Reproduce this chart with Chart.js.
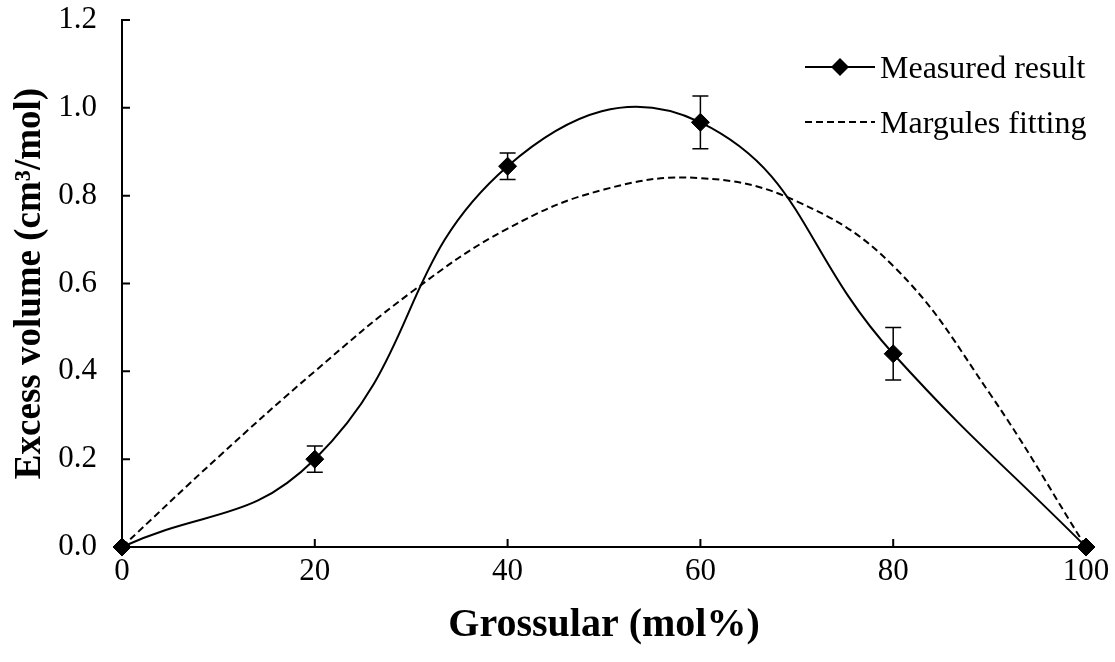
<!DOCTYPE html>
<html>
<head>
<meta charset="utf-8">
<script src="https://cdn.jsdelivr.net/npm/chart.js@4.4.0/dist/chart.umd.min.js"></script>
<style>
  html, body { margin: 0; padding: 0; background: #fff; }
  #wrap { width: 1115px; height: 662px; }
</style>
</head>
<body>
<div id="wrap"><canvas id="volumeChart"></canvas></div>
<script>
// Grossular content (mol%) and excess volume (cm3/mol)
const grossular = [0, 20, 40, 60, 80, 100];
const measured = [0, 0.20, 0.867, 0.967, 0.44, 0];
const measuredErr = [0, 0.03, 0.03, 0.06, 0.06, 0];
const fitX = [0, 10, 20, 30, 40, 50, 60, 70, 80, 90, 100];
const fitY = [0, 0.205, 0.40, 0.58, 0.725, 0.814, 0.84, 0.787, 0.64, 0.35, 0];
const xTicks = [0, 20, 40, 60, 80, 100];
const yTicks = [0, 0.2, 0.4, 0.6, 0.8, 1.0, 1.2];

const serif = "'Liberation Serif', 'Times New Roman', serif";

// vertical error bars with caps on the measured series
const errorBars = {
    id: 'errorBars',
    afterDatasetsDraw(chart) {
        const ctx = chart.ctx;
        const xs = chart.scales.x, ys = chart.scales.y;
        ctx.save();
        ctx.strokeStyle = '#000';
        ctx.lineWidth = 1.5;
        measured.forEach((v, i) => {
            const e = measuredErr[i];
            if (!e) return;
            const x = xs.getPixelForValue(grossular[i]);
            const top = ys.getPixelForValue(v + e);
            const bot = ys.getPixelForValue(v - e);
            ctx.beginPath();
            ctx.moveTo(x, top); ctx.lineTo(x, bot);
            ctx.moveTo(x - 8, top); ctx.lineTo(x + 8, top);
            ctx.moveTo(x - 8, bot); ctx.lineTo(x + 8, bot);
            ctx.stroke();
        });
        ctx.restore();
    }
};

// tick marks pointing into the plot area
const insideTicks = {
    id: 'insideTicks',
    afterDraw(chart) {
        const ctx = chart.ctx;
        const xs = chart.scales.x, ys = chart.scales.y;
        const area = chart.chartArea;
        ctx.save();
        ctx.strokeStyle = '#000';
        ctx.lineWidth = 2;
        ctx.beginPath();
        xTicks.forEach(t => {
            const x = xs.getPixelForValue(t);
            ctx.moveTo(x, area.bottom); ctx.lineTo(x, area.bottom - 8);
        });
        yTicks.forEach(t => {
            const y = ys.getPixelForValue(t);
            ctx.moveTo(area.left, y); ctx.lineTo(area.left + 8, y);
        });
        ctx.stroke();
        ctx.restore();
    }
};

// legend in the upper right corner: line sample, marker, label
const cornerLegend = {
    id: 'cornerLegend',
    afterDraw(chart) {
        const ctx = chart.ctx;
        const rows = [67, 122];
        ctx.save();
        ctx.font = '32px ' + serif;
        ctx.fillStyle = '#000';
        ctx.textBaseline = 'middle';
        chart.data.datasets.forEach((ds, i) => {
            const y = rows[i];
            ctx.strokeStyle = '#000';
            ctx.lineWidth = 2;
            ctx.setLineDash(ds.borderDash || []);
            ctx.beginPath();
            ctx.moveTo(805, y); ctx.lineTo(875, y);
            ctx.stroke();
            ctx.setLineDash([]);
            if (ds.pointRadius) {
                const r = ds.pointRadius;
                ctx.beginPath();
                ctx.moveTo(840, y - r); ctx.lineTo(840 + r, y);
                ctx.lineTo(840, y + r); ctx.lineTo(840 - r, y);
                ctx.closePath();
                ctx.fill();
            }
            ctx.fillText(ds.label, 880, y + 3);
        });
        ctx.restore();
    }
};

new Chart(document.getElementById('volumeChart'), {
    type: 'line',
    data: {
        datasets: [{
            label: 'Measured result',
            data: grossular.map((x, i) => ({ x: x, y: measured[i] })),
            borderColor: '#000',
            backgroundColor: '#000',
            borderWidth: 2,
            tension: 0.45,
            pointStyle: 'rectRot',
            pointRadius: 9,
            pointBorderWidth: 1,
            pointBackgroundColor: '#000',
            pointBorderColor: '#000',
            clip: false
        }, {
            label: 'Margules fitting',
            data: fitX.map((x, i) => ({ x: x, y: fitY[i] })),
            borderColor: '#000',
            borderWidth: 2,
            borderDash: [7, 4],
            tension: 0.4,
            pointRadius: 0,
            clip: false
        }]
    },
    options: {
        responsive: true,
        maintainAspectRatio: false,
        animation: false,
        layout: { autoPadding: false, padding: { top: 20, right: 29, left: 0, bottom: 0 } },
        plugins: {
            legend: { display: false },
            tooltip: { enabled: false }
        },
        scales: {
            x: {
                type: 'linear',
                min: 0,
                max: 100,
                afterFit: s => {
                    s.height = 115;
                    s.paddingLeft = 0;
                    s.paddingRight = 0;
                },
                afterBuildTicks: s => { s.ticks = xTicks.map(v => ({ value: v })); },
                ticks: {
                    color: '#000',
                    font: { family: serif, size: 31 },
                    padding: 6,
                    maxRotation: 0
                },
                grid: { display: true, drawOnChartArea: false, drawTicks: false },
                border: { color: '#000', width: 2 },
                title: {
                    display: true,
                    text: 'Grossular (mol%)',
                    color: '#000',
                    font: { family: serif, size: 40, weight: 'bold' },
                    padding: { bottom: 12 }
                }
            },
            y: {
                min: 0,
                max: 1.2,
                afterFit: s => {
                    s.width = 122;
                    s.paddingTop = 0;
                    s.paddingBottom = 0;
                },
                afterBuildTicks: s => { s.ticks = yTicks.map(v => ({ value: v })); },
                ticks: {
                    color: '#000',
                    font: { family: serif, size: 31 },
                    padding: 25,
                    callback: v => v.toFixed(1)
                },
                grid: { display: true, drawOnChartArea: false, drawTicks: false },
                border: { color: '#000', width: 2 },
                title: {
                    display: true,
                    text: 'Excess volume (cm³/mol)',
                    color: '#000',
                    font: { family: serif, size: 37, weight: 'bold' },
                    padding: { top: 8 }
                }
            }
        }
    },
    plugins: [errorBars, insideTicks, cornerLegend]
});
</script>
</body>
</html>
